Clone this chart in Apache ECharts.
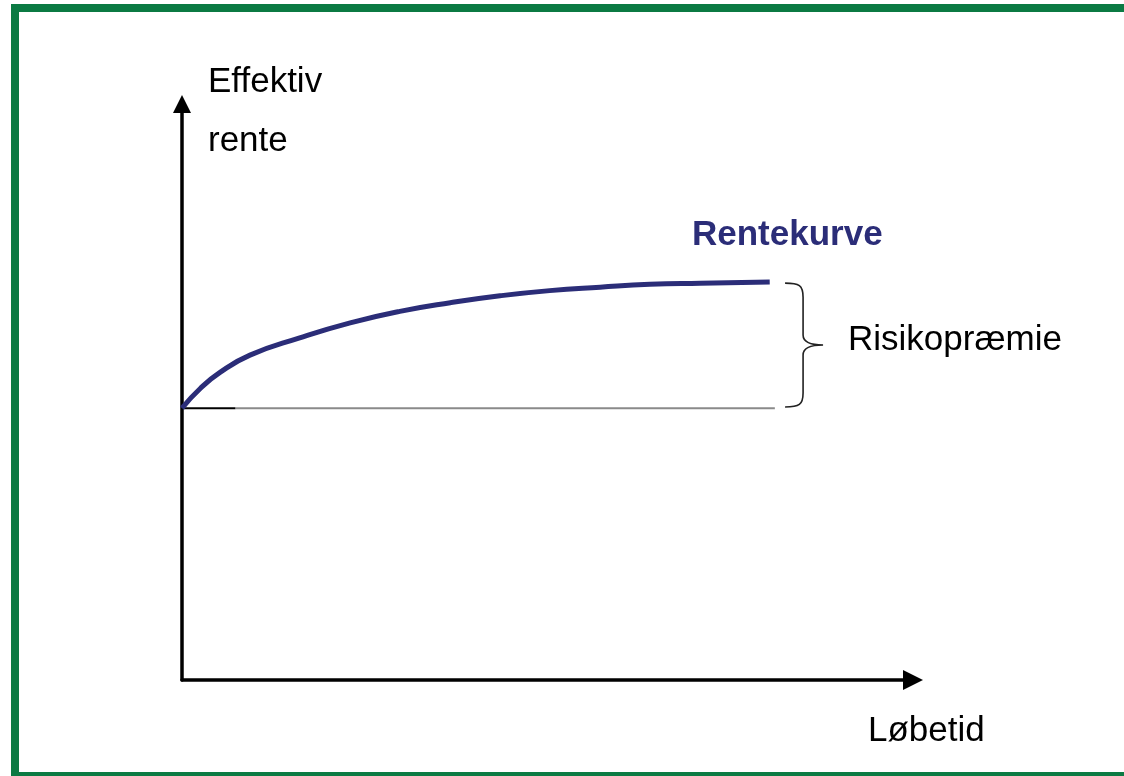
<!DOCTYPE html>
<html>
<head>
<meta charset="utf-8">
<script src="https://cdn.jsdelivr.net/npm/echarts@6/dist/echarts.min.js"></script>
<style>html,body{margin:0;padding:0;background:#fff}#c{width:1124px;height:776px}</style>
</head>
<body>
<div id="c"></div>
<script>
// Data (abstract units: x = løbetid 0..100, y = effektiv rente 0..100)
const curveX = [0, 2.5, 5.2, 9.3, 16.1, 23.0, 29.8, 36.7, 43.5, 50.3, 57.2, 64.0, 70.9, 80.4];
const curveY = [47.2, 50.6, 53.4, 56.4, 59.4, 62.0, 64.0, 65.5, 66.7, 67.6, 68.2, 68.7, 68.9, 69.1];
const baseX = [0, 7.3, 81.1];
const baseY = 47.2;
const braceX = 82.5;
const braceTop = 68.9;
const braceBottom = 47.4;
const labels = {
  yName: ['Effektiv', 'rente'],
  xName: 'Løbetid',
  curve: 'Rentekurve',
  premium: 'Risikopræmie'
};

const FONT = 'Liberation Sans, Arial, sans-serif';
const chart = echarts.init(document.getElementById('c'));
const curveData = curveX.map((x, i) => [x, curveY[i]]);

chart.setOption({
  animation: false,
  backgroundColor: '#fff',
  grid: { left: 182, right: 211, top: 104, bottom: 96 },
  xAxis: {
    type: 'value', min: 0, max: 100,
    axisLine: { show: true, symbol: ['none', 'triangle'], symbolSize: [20, 20], symbolOffset: [0, 0],
      lineStyle: { color: '#000', width: 3.5 } },
    axisTick: { show: false }, axisLabel: { show: false }, splitLine: { show: false }
  },
  yAxis: {
    type: 'value', min: 0, max: 100,
    axisLine: { show: true, symbol: ['none', 'triangle'], symbolSize: [18, 18], symbolOffset: [0, 0],
      lineStyle: { color: '#000', width: 3.5 } },
    axisTick: { show: false }, axisLabel: { show: false }, splitLine: { show: false }
  },
  graphic: [
    { type: 'rect', shape: { x: 11, y: 4, width: 1113, height: 8 }, style: { fill: '#0b7a43' }, silent: true },
    { type: 'rect', shape: { x: 11, y: 4, width: 8, height: 772 }, style: { fill: '#0b7a43' }, silent: true },
    { type: 'rect', shape: { x: 11, y: 772, width: 1113, height: 4 }, style: { fill: '#0b7a43' }, silent: true },
    { type: 'text', left: 208, top: 65, style: { text: labels.yName[0], font: '35px ' + FONT, fill: '#000' } },
    { type: 'text', left: 208, top: 124, style: { text: labels.yName[1], font: '35px ' + FONT, fill: '#000' } },
    { type: 'text', left: 692, top: 218, style: { text: labels.curve, font: 'bold 35px ' + FONT, fill: '#2b2d78' } },
    { type: 'text', left: 848, top: 323, style: { text: labels.premium, font: '35px ' + FONT, fill: '#000' } },
    { type: 'text', left: 868, top: 714, style: { text: labels.xName, font: '35px ' + FONT, fill: '#000' } }
  ],
  series: [
    {
      type: 'line', data: [[baseX[1], baseY], [baseX[2], baseY]], symbol: 'none', z: 1,
      lineStyle: { color: '#8a8a8a', width: 2 }
    },
    {
      type: 'line', data: [[baseX[0], baseY], [baseX[1], baseY]], symbol: 'none', z: 2,
      lineStyle: { color: '#000', width: 2 }
    },
    {
      type: 'line', data: curveData, smooth: 0.5, symbol: 'none', z: 3,
      lineStyle: { color: '#2b2d78', width: 5 }
    },
    {
      type: 'custom', z: 3,
      data: [[braceX, braceTop, braceBottom]],
      renderItem: function (params, api) {
        const t = api.coord([api.value(0), api.value(1)]);
        const b = api.coord([api.value(0), api.value(2)]);
        const x0 = t[0], y0 = t[1], y1 = b[1];
        const xm = x0 + 18, xt = x0 + 38, ym = (y0 + y1) / 2;
        const r = 10;
        const d = 'M' + x0 + ' ' + y0 +
          ' C' + (x0 + 14) + ' ' + y0 + ' ' + xm + ' ' + (y0 + 2) + ' ' + xm + ' ' + (y0 + r + 4) +
          ' L' + xm + ' ' + (ym - r) +
          ' C' + xm + ' ' + (ym - 3) + ' ' + (xm + 8) + ' ' + ym + ' ' + xt + ' ' + ym +
          ' C' + (xm + 8) + ' ' + ym + ' ' + xm + ' ' + (ym + 3) + ' ' + xm + ' ' + (ym + r) +
          ' L' + xm + ' ' + (y1 - r - 4) +
          ' C' + xm + ' ' + (y1 - 2) + ' ' + (x0 + 14) + ' ' + y1 + ' ' + x0 + ' ' + y1;
        return {
          type: 'path',
          shape: { pathData: d },
          style: { fill: 'none', stroke: '#222', lineWidth: 1.6 }
        };
      }
    }
  ]
});
</script>
</body>
</html>
